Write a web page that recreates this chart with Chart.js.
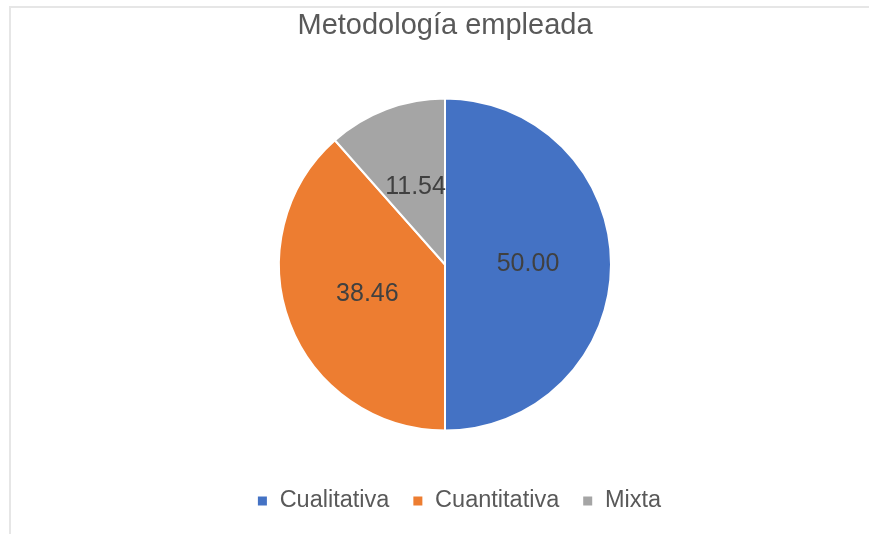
<!DOCTYPE html>
<html>
<head>
<meta charset="utf-8">
<script src="https://cdn.jsdelivr.net/npm/chart.js@4"></script>
<style>
  html, body { margin: 0; padding: 0; background: #ffffff; }
  #wrap { position: relative; width: 869px; height: 534px; overflow: hidden; }
  #frame { position: absolute; left: 9px; top: 6px; width: 900px; height: 600px;
           border-left: 2px solid #e6e6e6; border-top: 2px solid #e6e6e6; pointer-events: none; }
  canvas { position: absolute; left: 0; top: 0; }
</style>
</head>
<body>
<div id="wrap">
  <div id="frame"></div>
  <canvas id="c" width="869" height="534"></canvas>
</div>
<script>
const titleText = "Metodología empleada";
const categories = ["Cualitativa", "Cuantitativa", "Mixta"];
const values = [50.00, 38.46, 11.54];
const sliceColors = ["#4472C4", "#ED7D31", "#A5A5A5"];

const FONT = "'Liberation Sans', Arial, sans-serif";

const valueLabels = {
  id: 'valueLabels',
  afterDatasetsDraw(chart) {
    const ctx = chart.ctx;
    const meta = chart.getDatasetMeta(0);
    ctx.save();
    ctx.font = "25px " + FONT;
    ctx.fillStyle = "#404040";
    ctx.textAlign = "center";
    ctx.textBaseline = "middle";
    meta.data.forEach((arc, i) => {
      const p = arc.getCenterPoint();
      ctx.fillText(chart.data.datasets[0].data[i].toFixed(2), p.x, p.y);
    });
    ctx.restore();
  }
};

const shiftLegend = {
  id: 'shiftLegend',
  afterLayout(chart) {
    const l = chart.legend;
    if (l) { l.left += 14; l.right += 14; }
  }
};

new Chart(document.getElementById('c'), {
  type: 'pie',
  data: {
    labels: categories,
    datasets: [{
      data: values,
      backgroundColor: sliceColors,
      borderColor: "#ffffff",
      borderWidth: 2,
      radius: 166
    }]
  },
  options: {
    responsive: false,
    animation: false,
    layout: { padding: { left: 21, right: 0, top: 0, bottom: 11.25 } },
    plugins: {
      title: {
        display: true,
        text: titleText,
        color: "#595959",
        font: { family: FONT, size: 29, weight: 'normal', lineHeight: 1.2 },
        padding: { top: 9, bottom: 19 }
      },
      legend: {
        position: 'bottom',
        labels: {
          color: "#595959",
          font: { family: FONT, size: 23.5, lineHeight: 1 },
          boxWidth: 11,
          boxHeight: 11,
          padding: 23
        }
      },
      tooltip: { enabled: false }
    }
  },
  plugins: [valueLabels, shiftLegend]
});
</script>
</body>
</html>
